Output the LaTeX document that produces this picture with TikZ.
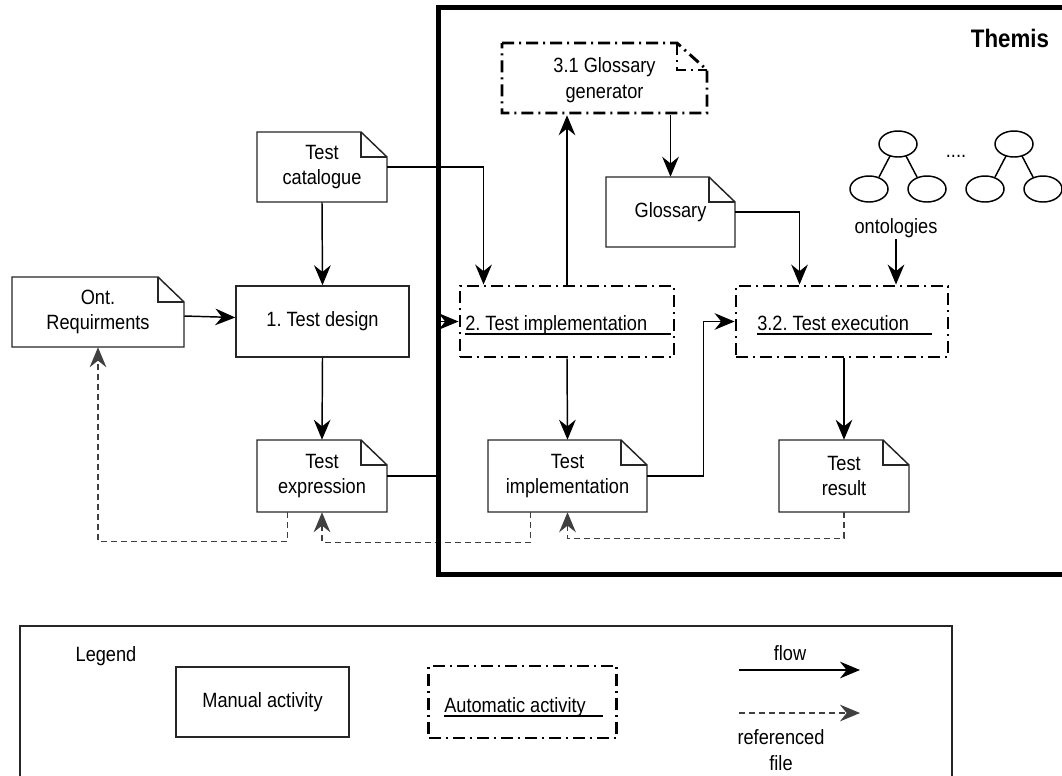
\documentclass[tikz,border=0pt]{standalone}
\usepackage{fontspec}
\setmainfont{Liberation Sans}[FakeStretch=0.88]
\frenchspacing
\usetikzlibrary{arrows.meta,calc}
\newcommand\docnode[6]{%
  \node[docbody, minimum width={(#4-#2)*0.75pt}, minimum height={(#5-#3)*0.75pt}] (#1) at ({(#2+#4)/2},{(#3+#5)/2}) {#6};
  \draw[docline] (#2,#3) -- ({#4-26},#3) -- (#4,{#3+25}) -- (#4,#5) -- (#2,#5) -- cycle;
  \draw[docline] ({#4-26},#3) -- ({#4-26},{#3+25}) -- (#4,{#3+25});
}
\begin{document}
\begin{tikzpicture}[x=0.75pt,y=-0.75pt,
  font=\fontsize{15.5}{19}\selectfont,
  tiphead/.style={-{Stealth[length=15pt,width=12.5pt,inset=5pt]}},
  flowline/.style={draw=black, line width=1.1pt, tiphead},
  refline/.style={draw=black!75, line width=1.1pt, dash pattern=on 4.5pt off 3pt, tiphead},
  docline/.style={draw=black!85, line width=1.1pt, line join=miter},
  docbody/.style={inner sep=0pt, align=center},
  manualbox/.style={draw=black!85, line width=1.1pt, inner sep=0pt, align=center},
  autoline/.style={draw=black, line width=2.2pt, dash pattern=on 9pt off 3.75pt on 1.5pt off 3.75pt},
  autobox/.style={autoline, inner sep=0pt},
  uline/.style={draw=black, line width=0.9pt},
  themisline/.style={draw=black, line width=3.75pt},
  legendline/.style={draw=black!85, line width=1.1pt},
  ellipseline/.style={draw=black, line width=1.1pt}
]
\clip (0,0) rectangle (1062,775);
\fill[white] (0,0) rectangle (1062,775);

% document shapes
\docnode{cat}{257}{132}{387}{202}{Test\\catalogue}
\docnode{ont}{12}{277}{184}{347}{Ont.\\Requirments}
\docnode{expr}{257}{440}{387}{512}{Test\\expression}
\docnode{timpl}{488}{440}{647}{512}{Test\\implementation}
\docnode{result}{779}{440}{909}{512}{Test\\result}
\docnode{gloss}{606}{177}{735}{247}{Glossary}

% manual activity
\node[manualbox, minimum width=129.75pt, minimum height=53.25pt] (design) at (322.5,321.5) {1. Test design};

% automatic activities
\node[autobox, minimum width=160.5pt, minimum height=53.25pt] (impl2) at (567,321.5) {};
\node[anchor=base west, inner sep=0pt] (impl2txt) at (465,330) {2. Test implementation};
\draw[uline] (465,334) -- (671,334);

\node[autobox, minimum width=159pt, minimum height=53.25pt] (exec) at (842,321.5) {};
\node[anchor=base west, inner sep=0pt] (exectxt) at (757,330) {3.2. Test execution};
\draw[uline] (757,334) -- (932,334);

% glossary generator (automatic, document-like)
\node[docbody, minimum width=153.75pt, minimum height=52.5pt] (gen) at (604.5,80) {3.1 Glossary\\generator};
\draw[autoline] (502,43) -- (677,43) -- (707,70) -- (707,113) -- (502,113) -- cycle;
\draw[autoline] (677,43) -- (677,70) -- (707,70);

% ontologies
\foreach \dx in {0,116} {
  \draw[ellipseline] ({898+\dx},144) ellipse [x radius=19, y radius=13];
  \draw[ellipseline] ({869+\dx},189) ellipse [x radius=19, y radius=13];
  \draw[ellipseline] ({927+\dx},189) ellipse [x radius=19, y radius=13];
  \draw[ellipseline] ({890+\dx},156) -- ({879+\dx},177);
  \draw[ellipseline] ({906+\dx},156) -- ({917+\dx},177);
}
\node (dots) at (956,156) {....};
\node[inner sep=1pt] (onto) at (896,228) {ontologies};

% flow connectors
\draw[flowline] (cat.south) -- (design.north);
\draw[flowline] (cat.east) -| ($(impl2.north west)+(25,0)$);
\draw[flowline] ([yshift=-3pt]ont.east) -- ([yshift=3pt]design.west);
\draw[flowline] (design.south) -- (expr.north);
\draw[flowline] (expr.east) -- ++(50,0) |- (impl2.west);
\draw[flowline] (impl2.north) -- (impl2.north |- gen.south);
\draw[flowline] (gloss.north |- gen.south) -- (gloss.north);
\draw[flowline] (gloss.east) -| ($(exec.north west)+(65,0)$);
\draw[flowline] (onto.south) -- (onto.south |- exec.north);
\draw[flowline] (impl2.south) -- (timpl.north);
\draw[flowline] (timpl.east) -- ++(56,0) |- (exec.west);
\draw[flowline] (result.north |- exec.south) -- (result.north);

% referenced-file connectors
\draw[refline] ($(expr.south west)+(31,0)$) -- ++(0,29) -| (ont.south);
\draw[refline] ($(timpl.south west)+(43,0)$) -- ++(0,30) -| (expr.south);
\draw[refline] (result.south) -- ++(0,26) -| (timpl.south);

% Themis frame
\draw[themisline] (438,7) rectangle (1090,574);
\node[font=\fontsize{19}{22}\selectfont\bfseries] (themis) at (1010,38) {Themis};

% legend
\draw[legendline] (20,626) rectangle (952,800);
\node (legendlbl) at (106,656) {Legend};
\node[manualbox, minimum width=129.75pt, minimum height=52.5pt] (manual) at (262.5,702) {Manual activity};
\node[autobox, minimum width=141pt, minimum height=54pt] (auto) at (522.5,702) {};
\node[anchor=base west, inner sep=0pt] (autotxt) at (444,712) {Automatic activity};
\draw[uline] (444,716) -- (603,716);
\node (flowlbl) at (790,653) {flow};
\coordinate (f1) at (739,670);
\coordinate (f2) at (860,670);
\draw[flowline] (f1) -- (f2);
\coordinate (r1) at (739,713);
\coordinate (r2) at (860,713);
\draw[refline] (r1) -- (r2);
\node[align=center] (reflbl) at (781,750) {referenced\\file};
\end{tikzpicture}
\end{document}
